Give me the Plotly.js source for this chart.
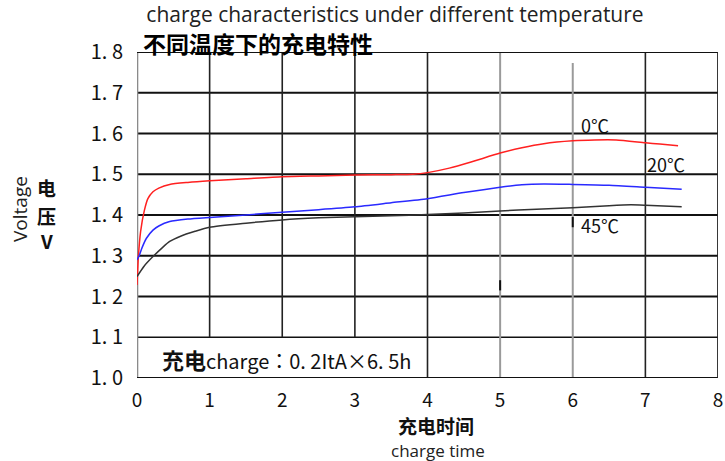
<!DOCTYPE html>
<html>
<head>
<meta charset="utf-8">
<script src="https://cdn.plot.ly/plotly-3.0.1.min.js"></script>
<style>html,body{margin:0;padding:0;background:#fff;}#chart{width:725px;height:461px;}</style>
</head>
<body>
<div id="chart"></div>
<script>
// ---- data ----
var seriesNames = ["0℃", "20℃", "45℃"];

var time0C = [0, 0.02, 0.05, 0.1, 0.15, 0.22, 0.3, 0.45, 0.7, 1, 1.5, 2, 2.5, 3, 3.5, 3.8, 4, 4.3, 4.6, 5, 5.3, 5.6, 6, 6.3, 6.6, 7, 7.2, 7.45];
var volt0C = [1.228, 1.30, 1.36, 1.41, 1.44, 1.457, 1.466, 1.475, 1.480, 1.484, 1.489, 1.494, 1.496, 1.498, 1.499, 1.500, 1.504, 1.515, 1.530, 1.552, 1.565, 1.575, 1.582, 1.584, 1.584, 1.577, 1.574, 1.570];

var time20C = [0, 0.03, 0.07, 0.13, 0.22, 0.3, 0.45, 0.7, 1, 1.5, 2, 2.5, 3, 3.5, 4, 4.5, 5, 5.3, 5.6, 6, 6.5, 7, 7.5];
var volt20C = [1.29, 1.30, 1.32, 1.343, 1.363, 1.373, 1.384, 1.390, 1.394, 1.400, 1.407, 1.413, 1.420, 1.430, 1.440, 1.455, 1.468, 1.474, 1.476, 1.475, 1.473, 1.468, 1.463];

var time45C = [0, 0.1, 0.22, 0.35, 0.45, 0.6, 0.8, 1, 1.5, 2, 2.5, 3, 3.5, 4, 4.5, 5, 5.5, 6, 6.5, 6.8, 7, 7.5];
var volt45C = [1.249, 1.275, 1.298, 1.320, 1.335, 1.348, 1.360, 1.370, 1.380, 1.388, 1.393, 1.396, 1.398, 1.401, 1.405, 1.410, 1.414, 1.418, 1.423, 1.425, 1.424, 1.420];

var xTicks = [0, 1, 2, 3, 4, 5, 6, 7, 8];
var xTickLabels = ["0", "1", "2", "3", "4", "5", "6", "7", "8"];
var yTicks = [1.0, 1.1, 1.2, 1.3, 1.4, 1.5, 1.6, 1.7, 1.8];
var yTickLabels = ["1. 0", "1. 1", "1. 2", "1. 3", "1. 4", "1. 5", "1. 6", "1. 7", "1. 8"];

// ---- drawing ----
var gothic = "'Noto Sans CJK JP', 'Noto Sans CJK SC', sans-serif";
var cjk = "'Noto Sans CJK SC', sans-serif";
var latin = "'Open Sans', sans-serif";

var traces = [
  {x: time0C, y: volt0C, name: seriesNames[0], mode: "lines", line: {color: "#ff2020", width: 1.5, shape: "spline", smoothing: 0.6}, cliponaxis: false},
  {x: time20C, y: volt20C, name: seriesNames[1], mode: "lines", line: {color: "#2a2aff", width: 1.5, shape: "spline", smoothing: 0.6}, cliponaxis: false},
  {x: time45C, y: volt45C, name: seriesNames[2], mode: "lines", line: {color: "#333333", width: 1.5, shape: "spline", smoothing: 0.6}, cliponaxis: false}
];

var xMin = xTicks[0], xMax = xTicks[xTicks.length - 1];
var yMin = yTicks[0], yMax = yTicks[yTicks.length - 1];
var boxTop = yTicks[1];

var shapes = [];
// horizontal grid lines
yTicks.forEach(function (v, i) {
  if (i === 0 || i === yTicks.length - 1) return;
  shapes.push({type: "line", xref: "x", yref: "y", x0: xMin, x1: xMax, y0: v, y1: v,
    line: {color: "#111", width: v === boxTop ? 1.5 : 2.2}, layer: "below"});
});
// vertical grid lines
xTicks.forEach(function (v, i) {
  if (i === 0 || i === xTicks.length - 1) return;
  var gray = (v === 5 || v === 6);
  var bottom = v < 4 ? boxTop : yMin;
  var top = v === 6 ? 1.773 : yMax;
  shapes.push({type: "line", xref: "x", yref: "y", x0: v, x1: v, y0: bottom, y1: top,
    line: {color: gray ? "#9a9a9a" : "#222", width: gray ? 2 : 1.6}, layer: "below"});
});
// small dark marks on the gray lines
shapes.push({type: "line", xref: "x", yref: "y", x0: 6, x1: 6, y0: 1.37, y1: 1.395, line: {color: "#111", width: 2}});
shapes.push({type: "line", xref: "x", yref: "y", x0: 5, x1: 5, y0: 1.215, y1: 1.24, line: {color: "#111", width: 2}});
// frame
shapes.push({type: "line", xref: "x", yref: "y", x0: xMin, x1: xMax, y0: yMax, y1: yMax, line: {color: "#111", width: 2}});
shapes.push({type: "line", xref: "x", yref: "y", x0: xMin, x1: xMax, y0: yMin, y1: yMin, line: {color: "#111", width: 2.2}});
shapes.push({type: "line", xref: "x", yref: "y", x0: xMax, x1: xMax, y0: yMin, y1: yMax, line: {color: "#222", width: 1.8}});
shapes.push({type: "line", xref: "x", yref: "y", x0: xMin, x1: xMin, y0: yMin, y1: yMax, line: {color: "#8a8a8a", width: 2.6}, layer: "below"});

// plot area: left 137, right 718, top 52, bottom 378
function px(xp) { return (xp - 137) / 581; }
function py(yp) { return (378 - yp) / 326; }

var annotations = [
  {text: "不同温度下的充电特性", xref: "paper", yref: "paper", x: px(142), y: py(43), xanchor: "left", yanchor: "middle",
    showarrow: false, borderpad: 0, font: {family: cjk, size: 23, color: "#000", weight: "bold"}},
  {text: "Voltage", xref: "paper", yref: "paper", x: px(20), y: py(209), xanchor: "center", yanchor: "middle", textangle: -90,
    showarrow: false, font: {family: latin, size: 19, color: "#222"}},
  {text: "电", xref: "paper", yref: "paper", x: px(46), y: py(187), xanchor: "center", yanchor: "middle",
    showarrow: false, font: {family: cjk, size: 19, color: "#111", weight: "bold"}},
  {text: "压", xref: "paper", yref: "paper", x: px(46), y: py(215), xanchor: "center", yanchor: "middle",
    showarrow: false, font: {family: cjk, size: 19, color: "#111", weight: "bold"}},
  {text: "V", xref: "paper", yref: "paper", x: px(46), y: py(240), xanchor: "center", yanchor: "middle",
    showarrow: false, font: {family: gothic, size: 19, color: "#111", weight: "bold"}},
  {text: "充电时间", xref: "paper", yref: "paper", x: px(436), y: py(425), xanchor: "center", yanchor: "middle",
    showarrow: false, borderpad: 0, font: {family: cjk, size: 19, color: "#111", weight: "bold"}},
  {text: "charge time", xref: "paper", yref: "paper", x: px(438), y: py(450), xanchor: "center", yanchor: "middle",
    showarrow: false, borderpad: 0, font: {family: latin, size: 17, color: "#222"}},
  {text: "<span style='font-size:22px;font-weight:bold'>充电</span>charge：0. 2ItA×6. 5h", xref: "paper", yref: "paper",
    x: px(160), y: py(359), xanchor: "left", yanchor: "middle",
    showarrow: false, font: {family: gothic, size: 20, color: "#111"}},
  {text: seriesNames[0], xref: "paper", yref: "paper", x: px(579), y: py(125), xanchor: "left", yanchor: "middle",
    showarrow: false, font: {family: gothic, size: 18, color: "#111"}},
  {text: seriesNames[1], xref: "paper", yref: "paper", x: px(645), y: py(164), xanchor: "left", yanchor: "middle",
    showarrow: false, font: {family: gothic, size: 18, color: "#111"}},
  {text: seriesNames[2], xref: "paper", yref: "paper", x: px(579), y: py(225), xanchor: "left", yanchor: "middle",
    showarrow: false, font: {family: gothic, size: 18, color: "#111"}}
];

var layout = {
  width: 725, height: 461,
  margin: {l: 137, r: 7, t: 52, b: 83},
  paper_bgcolor: "#fff", plot_bgcolor: "#fff",
  showlegend: false,
  title: {text: "charge characteristics under different temperature", x: 395 / 725, xanchor: "center",
    y: 1 - 15 / 461, yanchor: "middle", font: {family: latin, size: 21, color: "#222"}},
  xaxis: {range: [xMin, xMax], tickvals: xTicks, ticktext: xTickLabels, showgrid: false, zeroline: false, showline: false,
    ticks: "", ticklabelstandoff: 9, tickfont: {family: gothic, size: 19, color: "#111"}, fixedrange: true},
  yaxis: {range: [yMin, yMax], tickvals: yTicks, ticktext: yTickLabels, showgrid: false, zeroline: false, showline: false,
    ticks: "", ticklabelstandoff: 13, tickfont: {family: gothic, size: 20, color: "#111"}, fixedrange: true},
  shapes: shapes,
  annotations: annotations
};

Plotly.newPlot("chart", traces, layout, {displayModeBar: false, staticPlot: true});
</script>
</body>
</html>
